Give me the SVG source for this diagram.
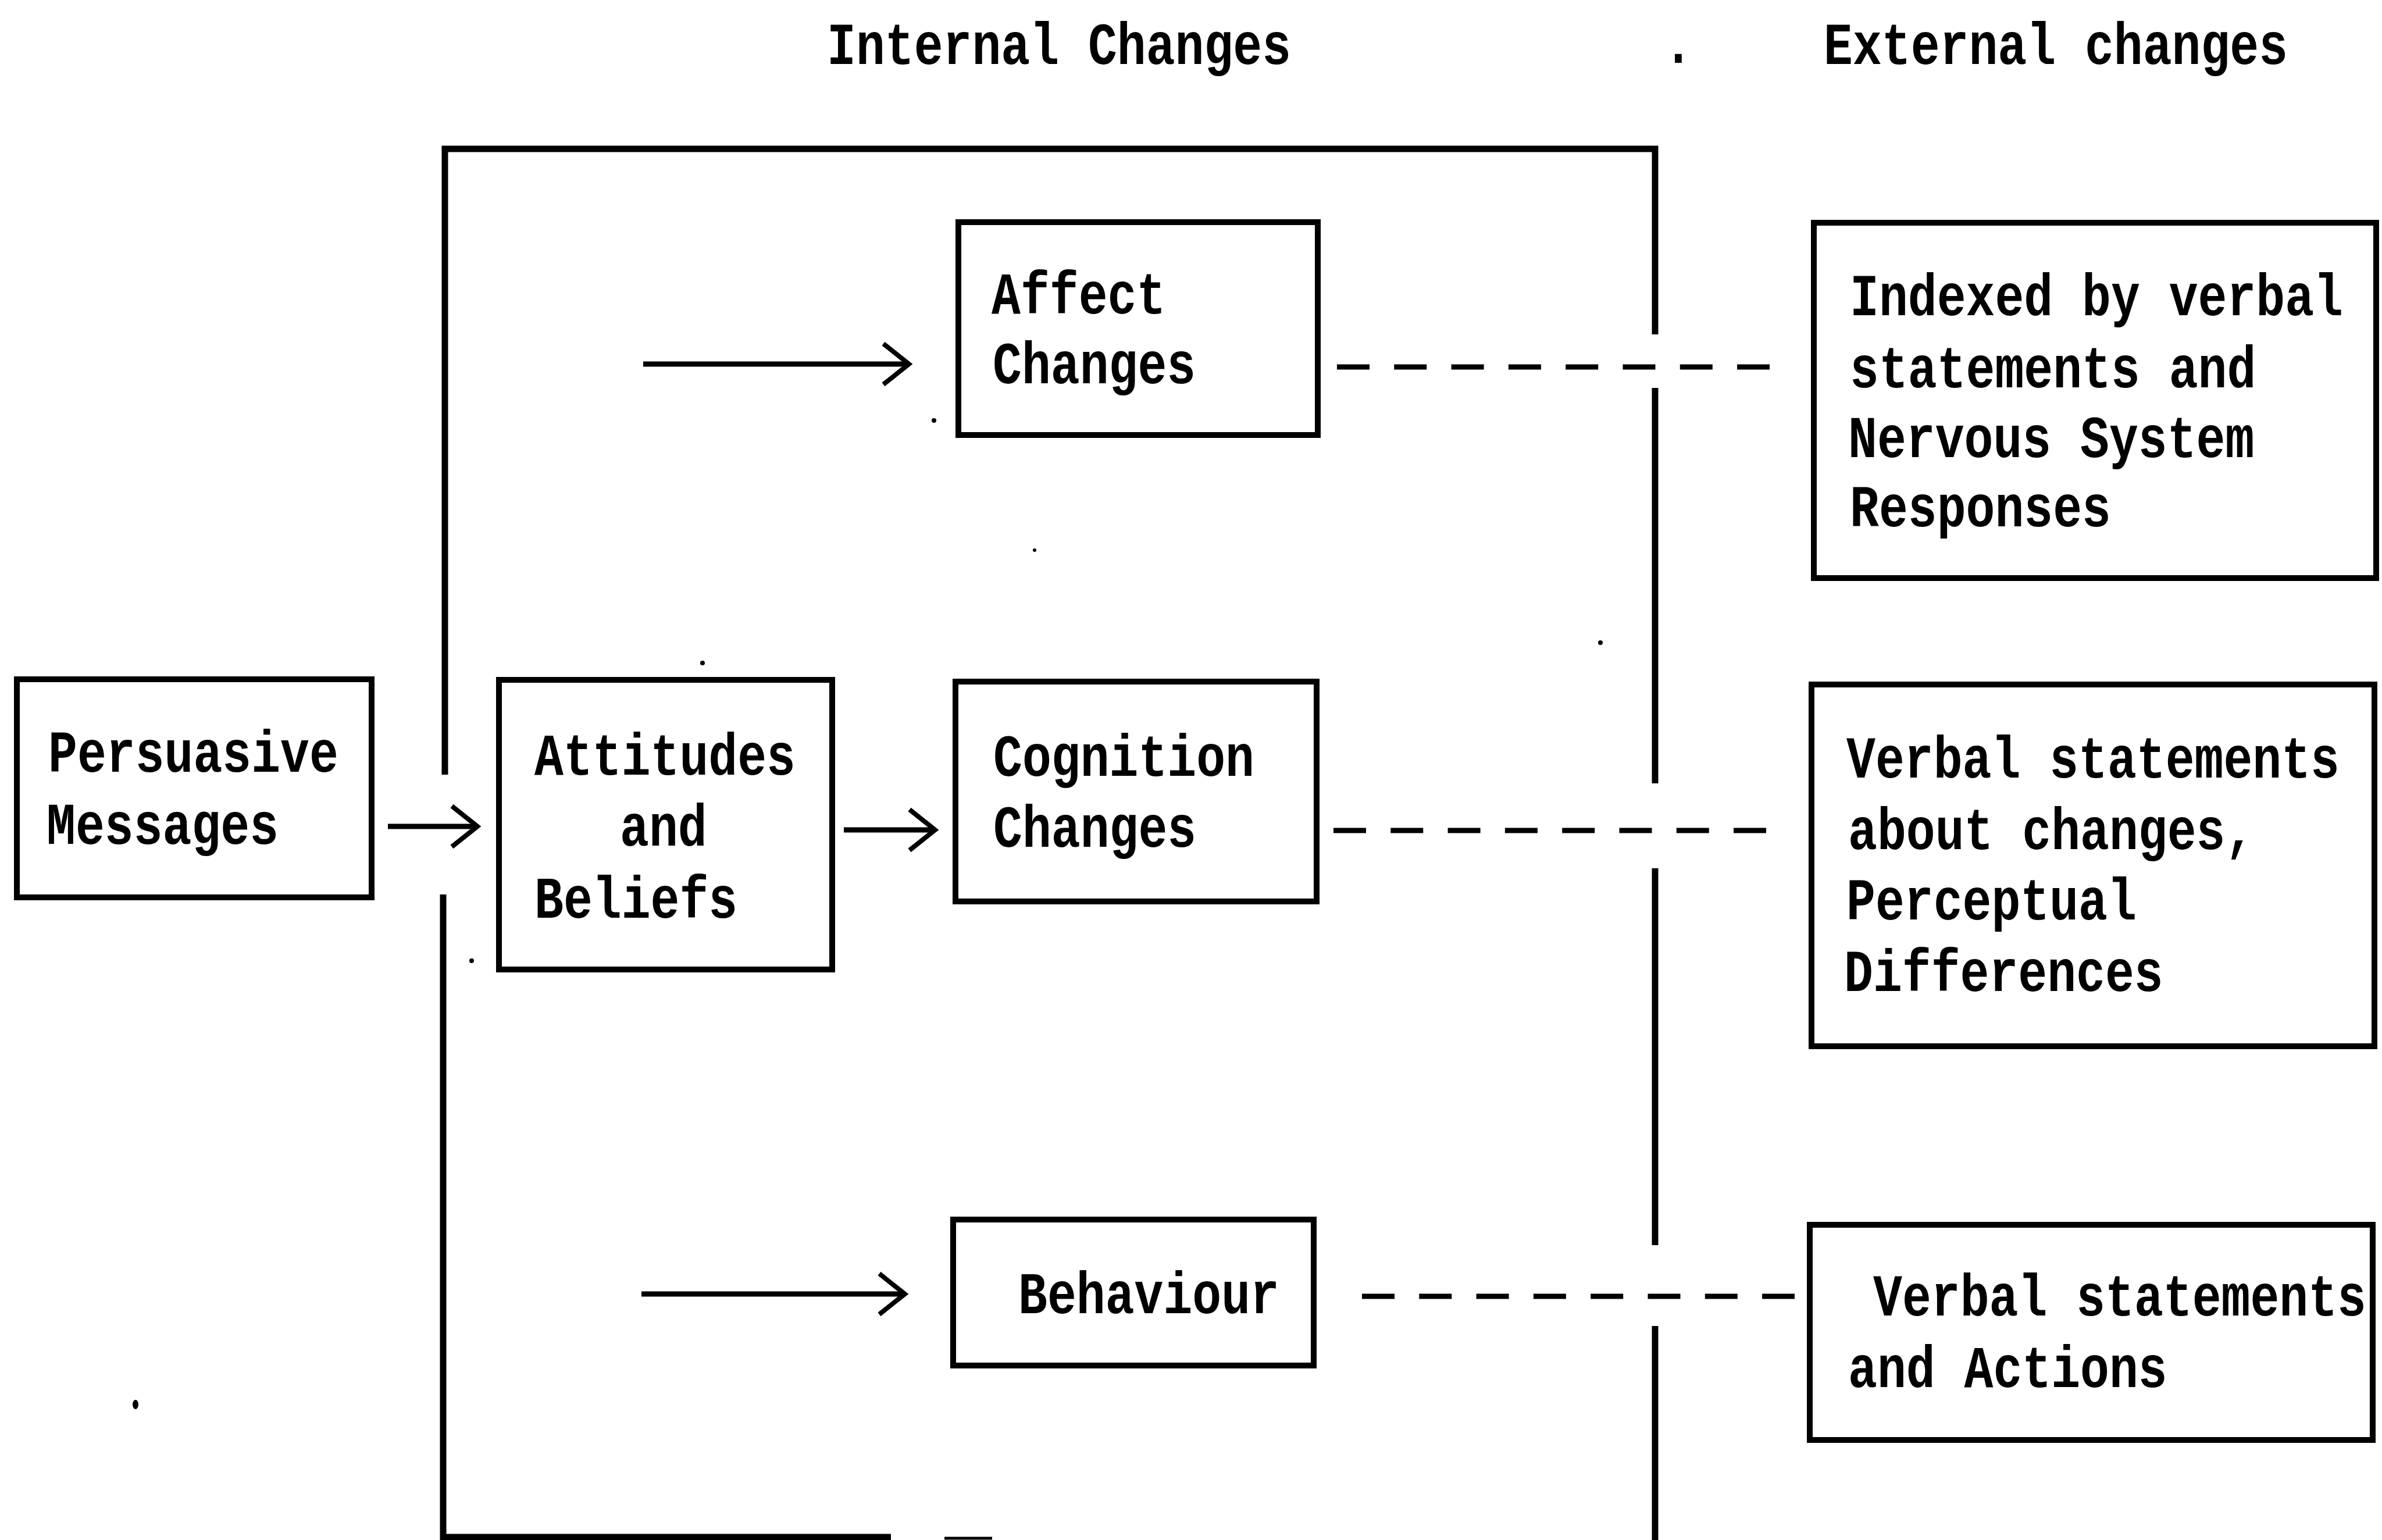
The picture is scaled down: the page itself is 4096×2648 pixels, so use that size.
<svg xmlns="http://www.w3.org/2000/svg" width="4096" height="2648" viewBox="0 0 4096 2648">
<style>
.bg{fill:#fff}
.box{fill:none;stroke:#000;stroke-width:10;stroke-linejoin:miter}
.frame{fill:none;stroke:#000;stroke-width:11;stroke-linecap:butt;stroke-linejoin:miter}
.arrow{fill:none;stroke:#000;stroke-width:9}
.dash{fill:none;stroke:#000;stroke-width:9;stroke-dasharray:56 42.3}
.t{font-family:"Liberation Mono","DejaVu Sans Mono",monospace;font-size:102px;font-weight:bold;fill:#000}
.speck{fill:#000}
</style>
<defs>
<marker id="chev" markerUnits="userSpaceOnUse" markerWidth="70" markerHeight="100" viewBox="-55 -50 70 100" refX="0" refY="0" orient="auto" overflow="visible">
<path d="M-44,-35 L0,0 L-44,35" fill="none" stroke="#000" stroke-width="8"/>
</marker>
</defs>
<rect class="bg" x="0" y="0" width="4096" height="2648"/>

<g id="titles">
<text class="t" transform="translate(1422,110) scale(0.815,1)">Internal Changes</text>
<text class="t" transform="translate(2861,108) scale(0.815,1)">.</text>
<text class="t" transform="translate(3136,110) scale(0.815,1)">External changes</text>
</g>

<g id="frame">
<path class="frame" d="M765,1332 L765,256 L2846,256 L2846,575"/>
<path class="frame" d="M2846,667 L2846,1347"/>
<path class="frame" d="M2846,1493 L2846,2141"/>
<path class="frame" d="M2846,2280 L2846,2648"/>
<path class="frame" d="M762,1538 L762,2643 L1532,2643"/>
<path class="frame" d="M1624,2645 L1706,2645" style="stroke-width:5"/>
</g>

<g id="connectors">
<path class="arrow" d="M667,1421 L821,1421" marker-end="url(#chev)"/>
<path class="arrow" d="M1451,1427 L1608,1427" marker-end="url(#chev)"/>
<path class="arrow" d="M1106,626 L1563,626" marker-end="url(#chev)"/>
<path class="arrow" d="M1103,2225 L1556,2225" marker-end="url(#chev)"/>
<path class="dash" d="M2299,631 L3043,631"/>
<path class="dash" d="M2293,1428 L3037,1428"/>
<path class="dash" d="M2342,2229 L3086,2229"/>
</g>

<g id="persuasive-messages">
<rect class="box" x="29" y="1168" width="610" height="375"/>
<text class="t" transform="translate(83,1327) scale(0.815,1)">Persuasive</text>
<text class="t" transform="translate(80,1451) scale(0.815,1)">Messages</text>
</g>

<g id="attitudes-beliefs">
<rect class="box" x="858" y="1169" width="573" height="498"/>
<text class="t" transform="translate(919,1332) scale(0.815,1)">Attitudes</text>
<text class="t" transform="translate(1066,1454) scale(0.815,1)">and</text>
<text class="t" transform="translate(919,1578) scale(0.815,1)">Beliefs</text>
</g>

<g id="affect-changes">
<rect class="box" x="1648" y="382" width="618" height="366"/>
<text class="t" transform="translate(1705,539) scale(0.815,1)">Affect</text>
<text class="t" transform="translate(1707,659) scale(0.815,1)">Changes</text>
</g>

<g id="cognition-changes">
<rect class="box" x="1643" y="1172" width="621" height="378"/>
<text class="t" transform="translate(1708,1334) scale(0.815,1)">Cognition</text>
<text class="t" transform="translate(1708,1456) scale(0.815,1)">Changes</text>
</g>

<g id="behaviour">
<rect class="box" x="1639" y="2097" width="620" height="251"/>
<text class="t" transform="translate(1751,2258) scale(0.815,1)">Behaviour</text>
</g>

<g id="affect-indicators">
<rect class="box" x="3119" y="383" width="967" height="611"/>
<text class="t" transform="translate(3181,542) scale(0.815,1)">Indexed by verbal</text>
<text class="t" transform="translate(3181,666) scale(0.815,1)">statements and</text>
<text class="t" transform="translate(3178,786) scale(0.815,1)">Nervous System</text>
<text class="t" transform="translate(3181,905) scale(0.815,1)">Responses</text>
</g>

<g id="cognition-indicators">
<rect class="box" x="3115" y="1177" width="968" height="622"/>
<text class="t" transform="translate(3175,1337) scale(0.815,1)">Verbal statements</text>
<text class="t" transform="translate(3178,1460) scale(0.815,1)">about changes,</text>
<text class="t" transform="translate(3175,1581) scale(0.815,1)">Perceptual</text>
<text class="t" transform="translate(3171,1704) scale(0.815,1)">Differences</text>
</g>

<g id="behaviour-indicators">
<rect class="box" x="3112" y="2106" width="968" height="370"/>
<text class="t" transform="translate(3221,2262) scale(0.815,1)">Verbal statements</text>
<text class="t" transform="translate(3178,2385) scale(0.815,1)">and Actions</text>
</g>

<g id="specks">
<circle class="speck" cx="1606" cy="723" r="4"/>
<circle class="speck" cx="1779" cy="946" r="3"/>
<circle class="speck" cx="2752" cy="1105" r="4"/>
<circle class="speck" cx="1208" cy="1140" r="4"/>
<circle class="speck" cx="811" cy="1652" r="4"/>
<ellipse class="speck" cx="233" cy="2415" rx="5" ry="8"/>
</g>
</svg>
